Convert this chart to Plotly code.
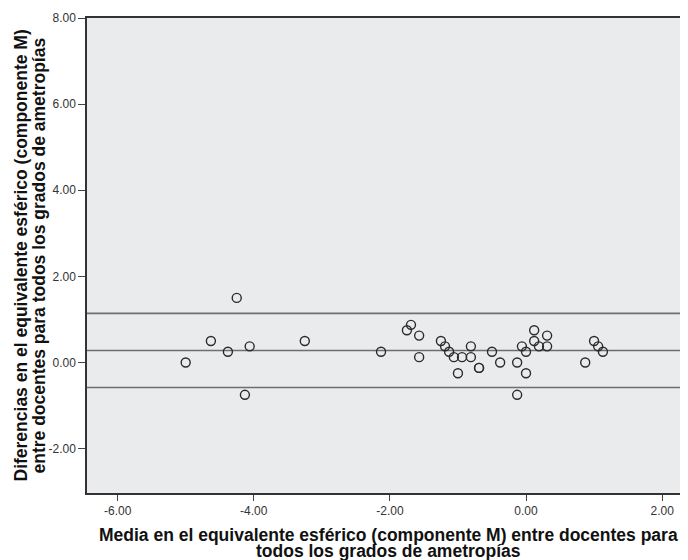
import plotly.graph_objects as go

# Bland-Altman data: mean (x) and difference (y)
media = [-5.00, -4.63, -4.38, -4.25, -4.13, -4.06, -3.25,
         -2.13, -1.75, -1.69, -1.57, -1.57, -1.25, -1.19, -1.13, -1.06, -1.00,
         -0.94, -0.81, -0.81, -0.69, -0.69, -0.50, -0.38, -0.13, -0.13, -0.06,
         0.00, 0.00, 0.12, 0.12, 0.19, 0.31, 0.31, 0.87, 1.00, 1.06, 1.13]
diferencia = [0.00, 0.50, 0.25, 1.50, -0.75, 0.375, 0.50,
              0.25, 0.75, 0.875, 0.625, 0.125, 0.50, 0.375, 0.25, 0.125, -0.25,
              0.125, 0.375, 0.125, -0.125, -0.125, 0.25, 0.00, 0.00, -0.75, 0.375,
              0.25, -0.25, 0.75, 0.50, 0.375, 0.625, 0.375, 0.00, 0.50, 0.375, 0.25]

ref_lines = [1.14, 0.28, -0.58]  # upper LoA, mean diff, lower LoA

x_ticks = [-6, -4, -2, 0, 2]
y_ticks = [-2, 0, 2, 4, 6, 8]

x_title = ["Media en el equivalente esférico (componente M) entre docentes para",
           "todos los grados de ametropías"]
y_title = ["Diferencias en el equivalente esférico (componente M)",
           "entre docentes para todos los grados de ametropías"]

# page has an 8px body margin, so the figure is 8px smaller and offset
OFF = 8
W, H = 688 - OFF, 560 - OFF
L, R, T, B = 87 - OFF, 0, 18 - OFF, 67

fig = go.Figure()
for v in ref_lines:
    fig.add_hline(y=v, line=dict(color="#6e6e6e", width=1.6), layer="below")

fig.add_trace(go.Scatter(
    x=media, y=diferencia, mode="markers",
    marker=dict(symbol="circle-open", size=9, color="#2b2b2b", line=dict(width=1.4)),
    hoverinfo="x+y", showlegend=False))

font_family = "Liberation Sans, Arial, sans-serif"
tfont = dict(family=font_family, size=17.5, color="#111")

def px_x(p):  # page pixel x -> paper x
    return (p - OFF - L) / (W - L - R)

def px_y(p):  # page pixel y -> paper y
    return (H - B - (p - OFF)) / (H - T - B)

anns = []
for txt, cy in zip(x_title, [534.5, 550.5]):
    anns.append(dict(text=f"<b>{txt}</b>", xref="paper", yref="paper",
                     x=px_x(388), y=px_y(cy), xanchor="center", yanchor="middle",
                     showarrow=False, font=tfont))
for txt, cx in zip(y_title, [20.5, 38.5]):
    anns.append(dict(text=f"<b>{txt}</b>", xref="paper", yref="paper",
                     x=px_x(cx), y=px_y(256), xanchor="center", yanchor="middle",
                     textangle=-90, showarrow=False, font=tfont))

fig.update_layout(
    width=W, height=H,
    margin=dict(l=L, r=R, t=T, b=B, autoexpand=False),
    paper_bgcolor="white", plot_bgcolor="#EAEBED",
    font=dict(family=font_family, size=12, color="#222"),
    annotations=anns,
    xaxis=dict(range=[-6.45, 2.38], tickvals=x_ticks,
               ticktext=[f"{v:.2f}" for v in x_ticks],
               showgrid=False, zeroline=False, showline=True, linecolor="#333",
               linewidth=1.5, mirror=True, ticks="outside", ticklen=6,
               tickcolor="#444", tickwidth=1.3, automargin=False,
               tickfont=dict(size=12, color="#333")),
    yaxis=dict(range=[-3.03, 8.0], tickvals=y_ticks,
               ticktext=[f"{v:.2f}" for v in y_ticks],
               showgrid=False, zeroline=False, showline=True, linecolor="#333",
               linewidth=1.5, ticks="outside", ticklen=7,
               tickcolor="#444", tickwidth=1.3, automargin=False,
               tickfont=dict(size=12, color="#333")),
)

fig.write_html("out.html")
